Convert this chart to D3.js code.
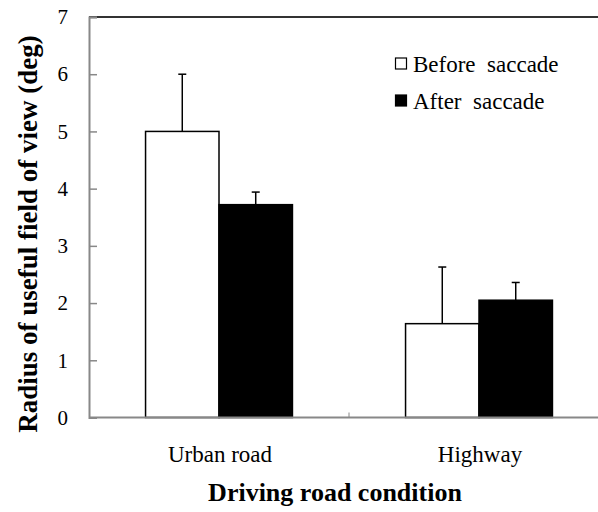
<!DOCTYPE html>
<html>
<head>
<meta charset="utf-8">
<script src="https://cdn.jsdelivr.net/npm/d3@7"></script>
<style>
  html, body { margin: 0; padding: 0; background: #fff; }
  svg { display: block; }
  svg text { font-family: "Liberation Serif", "Times New Roman", serif !important; fill: #000; }
</style>
</head>
<body>
<svg id="chart" width="598" height="512"></svg>
<script>
const categories = ["Urban road", "Highway"];
const seriesNames = ["Before saccade", "After saccade"];
const beforeValues = [5.0, 1.64];
const afterValues = [3.72, 2.05];
const beforeErrors = [1.0, 0.99];
const afterErrors = [0.22, 0.31];
const yTicks = [0, 1, 2, 3, 4, 5, 6, 7];

(function () {
const svg = d3.select("#chart");
const mLeft = 89, mRight = 598, mTop = 17, mBottom = 417.5;

const y = d3.scaleLinear().domain([0, 7]).range([mBottom, mTop]);
const x0 = d3.scaleBand().domain(categories).range([mLeft, 609]).padding(0);
const x1 = d3.scaleBand().domain(seriesNames).range([0, x0.bandwidth()]).paddingInner(0).paddingOuter(0.77);

const data = categories.map((c, i) => ({
  cat: c,
  vals: [
    {s: seriesNames[0], v: beforeValues[i], e: beforeErrors[i]},
    {s: seriesNames[1], v: afterValues[i], e: afterErrors[i]}
  ]
}));
const fills = {"Before saccade": "#fff", "After saccade": "#000"};

// top border
svg.append("line").attr("x1", mLeft).attr("x2", mRight).attr("y1", mTop).attr("y2", mTop)
  .attr("stroke", "#333").attr("stroke-width", 2);

// y axis
const yAxis = d3.axisLeft(y).tickValues(yTicks).tickSize(-8).tickPadding(21).tickFormat(d3.format("d"));
const gy = svg.append("g").attr("transform", `translate(${mLeft},0)`).call(yAxis);
gy.attr("font-family", null);
gy.select(".domain").attr("stroke", "#888").attr("stroke-width", 2);
gy.selectAll(".tick line").attr("stroke", "#888").attr("stroke-width", 1.5);
gy.selectAll(".tick text").attr("font-size", 21);

// bars
const groups = svg.selectAll("g.grp").data(data).enter().append("g")
  .attr("class", "grp").attr("transform", d => `translate(${x0(d.cat)},0)`);

groups.selectAll("rect").data(d => d.vals).enter().append("rect")
  .attr("x", d => x1(d.s)).attr("width", x1.bandwidth())
  .attr("y", d => y(d.v)).attr("height", d => y(0) - y(d.v))
  .attr("fill", d => fills[d.s]).attr("stroke", "#000").attr("stroke-width", 1.5);

// error bars
groups.selectAll("line.err").data(d => d.vals).enter().append("line")
  .attr("class", "err")
  .attr("x1", d => x1(d.s) + x1.bandwidth() / 2).attr("x2", d => x1(d.s) + x1.bandwidth() / 2)
  .attr("y1", d => y(d.v)).attr("y2", d => y(d.v + d.e))
  .attr("stroke", "#000").attr("stroke-width", 1.5);
groups.selectAll("line.cap").data(d => d.vals).enter().append("line")
  .attr("class", "cap")
  .attr("x1", d => x1(d.s) + x1.bandwidth() / 2 - 4).attr("x2", d => x1(d.s) + x1.bandwidth() / 2 + 4)
  .attr("y1", d => y(d.v + d.e)).attr("y2", d => y(d.v + d.e))
  .attr("stroke", "#000").attr("stroke-width", 1.5);

// x axis line
svg.append("line").attr("x1", mLeft).attr("x2", mRight).attr("y1", mBottom).attr("y2", mBottom)
  .attr("stroke", "#888").attr("stroke-width", 2);
// category divider ticks
svg.selectAll("line.div").data(categories.slice(1)).enter().append("line")
  .attr("class", "div")
  .attr("x1", d => x0(d)).attr("x2", d => x0(d))
  .attr("y1", mBottom - 5).attr("y2", mBottom)
  .attr("stroke", "#888").attr("stroke-width", 1);

// category labels
svg.selectAll("text.cat").data(categories).enter().append("text")
  .attr("class", "cat")
  .attr("x", d => x0(d) + x0.bandwidth() / 2 + 1).attr("y", 462)
  .attr("text-anchor", "middle").attr("font-size", 23).text(d => d);

// axis titles
svg.append("text").attr("x", 335).attr("y", 501).attr("text-anchor", "middle")
  .attr("font-size", 26).attr("font-weight", "bold").text("Driving road condition");
svg.append("text").attr("transform", "translate(37,234) rotate(-90)")
  .attr("text-anchor", "middle").attr("font-size", 27).attr("font-weight", "bold")
  .text("Radius of useful field of view (deg)");

// legend
const legend = svg.append("g");
seriesNames.forEach((s, i) => {
  const ly = 58 + i * 37;
  legend.append("rect").attr("x", 395.5).attr("y", ly).attr("width", 11).attr("height", 11)
    .attr("fill", fills[s]).attr("stroke", "#000").attr("stroke-width", 1.2);
  legend.append("text").attr("x", 413).attr("y", ly + 14).attr("font-size", 23)
    .style("white-space", "pre")
    .text(s.replace(" ", "  "));
});
})();
</script>
</body>
</html>
